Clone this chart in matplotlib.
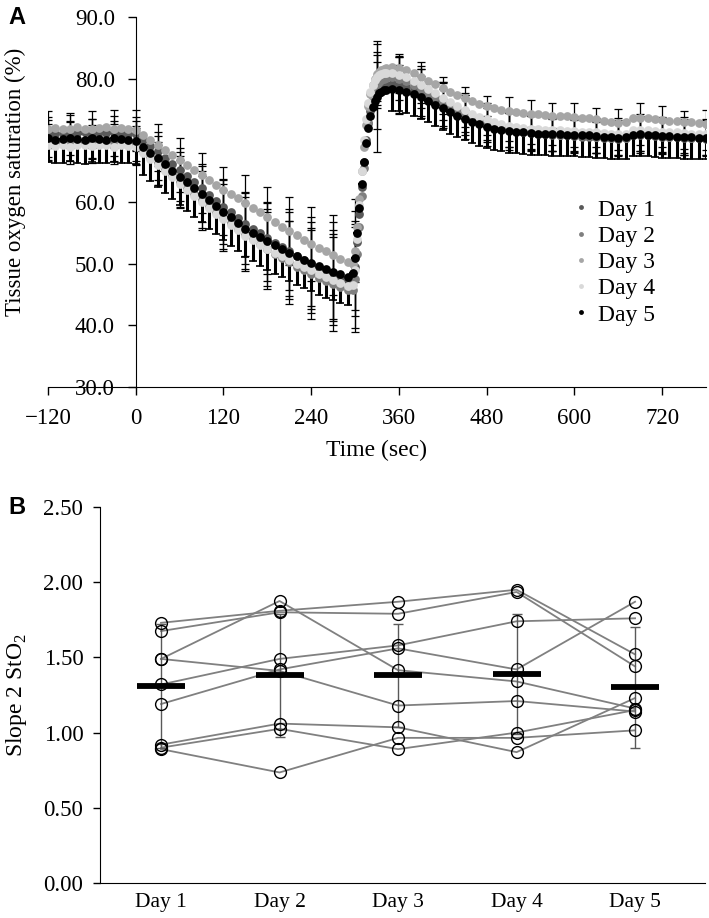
import numpy as np
import matplotlib
matplotlib.use("Agg")
import matplotlib.pyplot as plt
from matplotlib.lines import Line2D

plt.rcParams['font.family'] = 'Liberation Serif'
plt.rcParams['mathtext.fontset'] = 'custom'
plt.rcParams['mathtext.rm'] = 'Liberation Serif'

## Data, panel A (StO2 time course, % )
# sample times: baseline/occlusion every 10 s, reperfusion rise every 3 s, recovery every 10 s
time_sec = np.r_[np.arange(-120, 291, 10), np.arange(297, 343, 3), np.arange(350, 781, 10)]

day1 = [71.3, 71.1, 71.2, 71.4, 71.2, 71.3, 71.1, 71.3, 71.2, 71.4, 71.2, 71.1, 71.0,
        70.1, 69.1, 68.2, 67.2, 66.2, 65.2, 64.2, 63.2, 62.2, 61.2, 60.2, 59.2, 58.3, 57.4, 56.5,
        55.7, 54.9, 54.1, 53.4, 52.7, 52.0, 51.3, 50.6, 50.0, 49.4, 48.8, 48.3, 47.8, 47.3,
        47.5, 49.5, 53.5, 58.0, 62.5, 66.5, 70.0, 72.8, 74.8, 76.2, 77.2, 77.9, 78.4, 78.7, 78.9, 79.0,
        79.1, 79.0, 78.7, 78.2, 77.7, 77.1, 76.5, 75.9, 75.3, 74.7, 74.1, 73.6, 73.1, 72.7, 72.3,
        72.0, 71.7, 71.5, 71.3, 71.2, 71.1, 71.0, 70.9, 70.8, 70.8, 70.7, 70.6, 70.6, 70.5, 70.4,
        70.3, 70.2, 70.3, 70.8, 70.9, 70.8, 70.7, 70.6, 70.5, 70.5, 70.4, 70.3, 70.3, 70.2]
day2 = [69.7, 69.5, 69.6, 69.8, 69.6, 69.4, 69.7, 69.6, 69.5, 69.7, 69.6, 69.5, 69.3,
        68.3, 67.3, 66.3, 65.3, 64.3, 63.3, 62.3, 61.3, 60.3, 59.3, 58.4, 57.5, 56.6, 55.7, 54.8,
        54.0, 53.2, 52.4, 51.6, 50.9, 50.2, 49.5, 48.9, 48.3, 47.7, 47.2, 46.7, 46.2, 45.7,
        45.8, 47.5, 51.5, 56.0, 61.0, 65.5, 69.5, 72.8, 75.2, 77.0, 78.2, 79.0, 79.5, 79.8, 80.0, 80.1,
        80.2, 80.0, 79.6, 79.0, 78.4, 77.7, 77.0, 76.3, 75.6, 74.9, 74.3, 73.7, 73.2, 72.8, 72.4,
        72.1, 71.8, 71.6, 71.4, 71.3, 71.2, 71.1, 71.0, 70.9, 70.9, 70.8, 70.7, 70.7, 70.6, 70.5,
        70.4, 70.3, 70.4, 70.9, 71.0, 70.9, 70.8, 70.7, 70.6, 70.6, 70.5, 70.4, 70.4, 70.3]
day3 = [71.9, 72.0, 71.8, 71.9, 72.1, 71.9, 71.8, 72.0, 72.1, 71.9, 72.0, 71.9, 71.7,
        70.9, 70.1, 69.3, 68.5, 67.6, 66.8, 66.0, 65.2, 64.4, 63.6, 62.8, 62.0, 61.3, 60.6, 59.9,
        59.1, 58.3, 57.5, 56.7, 56.0, 55.3, 54.6, 53.9, 53.2, 52.6, 52.0, 51.4, 50.8, 50.2,
        50.0, 52.0, 56.0, 60.5, 65.0, 69.0, 72.5, 75.5, 77.5, 79.0, 80.0, 80.7, 81.1, 81.4, 81.6, 81.8,
        81.9, 81.8, 81.4, 80.9, 80.3, 79.7, 79.1, 78.5, 77.9, 77.3, 76.8, 76.3, 75.9, 75.6, 75.3,
        75.0, 74.8, 74.6, 74.4, 74.3, 74.2, 74.1, 74.0, 74.0, 73.9, 73.8, 73.7, 73.6, 73.4, 73.2,
        73.0, 72.8, 72.9, 73.6, 73.7, 73.6, 73.4, 73.3, 73.2, 73.1, 73.0, 72.9, 72.8, 72.7]
day4 = [69.3, 69.1, 69.2, 69.0, 69.3, 69.2, 69.1, 69.3, 69.2, 69.0, 69.2, 69.1, 69.0,
        68.0, 67.0, 66.0, 65.0, 64.0, 63.0, 62.0, 61.0, 60.0, 59.0, 58.1, 57.2, 56.3, 55.4, 54.5,
        53.8, 53.1, 52.4, 51.8, 51.2, 50.6, 50.0, 49.4, 48.9, 48.4, 47.9, 47.4, 46.9, 46.4,
        46.5, 49.0, 54.0, 59.5, 65.0, 70.0, 73.5, 76.0, 77.8, 79.0, 79.8, 80.3, 80.6, 80.8, 80.9, 81.0,
        80.9, 80.6, 80.2, 79.6, 79.0, 78.3, 77.6, 76.9, 76.2, 75.5, 74.9, 74.3, 73.8, 73.4, 73.0,
        72.7, 72.4, 72.2, 72.0, 71.9, 71.8, 71.7, 71.6, 71.6, 71.5, 71.5, 71.4, 71.4, 71.3, 71.2,
        71.1, 71.0, 71.1, 71.6, 71.7, 71.6, 71.5, 71.4, 71.3, 71.3, 71.2, 71.1, 71.1, 71.0]
day5 = [70.3, 70.1, 70.2, 70.4, 70.2, 70.0, 70.3, 70.2, 70.1, 70.3, 70.2, 70.1, 69.9,
        69.0, 68.0, 67.1, 66.1, 65.1, 64.1, 63.2, 62.2, 61.3, 60.3, 59.4, 58.4, 57.5, 56.6, 55.7,
        55.0, 54.3, 53.6, 53.0, 52.4, 51.8, 51.2, 50.6, 50.1, 49.6, 49.1, 48.7, 48.3, 47.9,
        48.5, 51.0, 55.0, 59.0, 63.0, 66.5, 69.5, 72.0, 74.0, 75.4, 76.4, 77.1, 77.6, 77.9, 78.1, 78.2,
        78.3, 78.2, 77.9, 77.5, 77.0, 76.4, 75.8, 75.2, 74.6, 74.0, 73.5, 73.0, 72.6, 72.2, 71.9,
        71.7, 71.5, 71.4, 71.3, 71.2, 71.1, 71.1, 71.0, 71.0, 70.9, 70.9, 70.8, 70.8, 70.7, 70.6,
        70.5, 70.4, 70.5, 70.9, 71.0, 70.9, 70.8, 70.7, 70.7, 70.6, 70.5, 70.5, 70.4, 70.4]

# SD shown every 30 s
err_times = np.arange(-120, 781, 30)
sd1 = [2.5, 2.7, 2.4, 2.6, 2.8, 3.2, 3.6, 4.0, 4.6, 5.2, 5.8, 6.3, 6.8, 7.2, 7.0, 6.0,
       4.5, 3.8, 3.5, 3.2, 3.0, 2.8, 2.7, 2.6, 2.6, 2.5, 2.6, 2.7, 2.6, 2.5, 2.6]
sd2 = [2.9, 3.1, 2.8, 3.0, 3.1, 3.5, 4.2, 4.8, 5.5, 6.0, 6.5, 6.8, 7.2, 7.6, 8.5, 3.7,
       3.5, 3.2, 3.0, 3.0, 2.8, 2.8, 2.7, 2.7, 2.6, 2.6, 2.7, 2.8, 2.6, 2.9, 2.7]
sd3 = [2.8, 2.6, 2.9, 3.0, 3.2, 3.4, 3.6, 3.5, 3.6, 4.5, 5.0, 5.5, 6.0, 6.5, 5.0, 5.0,
       2.2, 2.4, 1.8, 1.8, 1.6, 2.3, 2.2, 2.0, 2.2, 1.9, 2.3, 2.4, 2.3, 1.8, 2.3]
sd4 = [2.6, 2.8, 2.7, 2.9, 3.0, 3.3, 3.8, 4.2, 4.8, 5.4, 6.0, 6.4, 6.9, 7.4, 9.5, 4.0,
       3.0, 3.0, 2.6, 2.8, 2.6, 2.5, 2.5, 2.4, 2.5, 2.4, 2.6, 2.5, 2.4, 2.6, 2.5]
sd5 = [3.0, 2.8, 3.1, 2.9, 3.2, 3.6, 4.0, 4.6, 5.2, 5.8, 6.4, 7.0, 7.5, 8.0, 9.5, 9.0,
       4.0, 3.4, 3.2, 3.3, 3.1, 3.0, 2.9, 2.8, 2.9, 2.8, 2.9, 3.0, 2.9, 2.8, 2.9]
# Day 5 lower SD drawn at every sample (baseline, occlusion, rise, recovery)
day5_low_sd = [3.8, 4.6, 0.0, 3.5]
segment_len = [13, 29, 16, 44]

day_labels = ['Day 1', 'Day 2', 'Day 3', 'Day 4', 'Day 5']
day_colors = ['#595959', '#7f7f7f', '#a6a6a6', '#d9d9d9', '#000000']

## Data, panel B (slope 2 per subject)
subject_slopes = [
    [1.73, 1.81, 1.87, 1.95, 1.52],
    [1.675, 1.80, 1.79, 1.935, 1.44],
    [1.49, 1.875, 1.415, 1.34, 1.16],
    [1.49, 1.41, 1.18, 1.21, 1.14],
    [1.32, 1.49, 1.58, 1.74, 1.76],
    [1.19, 1.42, 1.56, 1.42, 1.87],
    [0.92, 1.06, 1.035, 0.87, 1.23],
    [0.90, 1.025, 0.89, 1.00, 1.15],
    [0.89, 0.735, 0.965, 0.965, 1.015],
]
slope_mean = [1.31, 1.38, 1.38, 1.39, 1.30]
slope_sd = [0.41, 0.41, 0.34, 0.40, 0.40]

## Figure
fig = plt.figure(figsize=(7.09, 9.18), dpi=100)
axA = fig.add_axes([48/709, 1-387/918, 658/709, 370/918])
axB = fig.add_axes([100/709, 1-883/918, 605/709, 376/918])

# Panel A
series = [day1, day2, day3, day4, day5]
sds = [sd1, sd2, sd3, sd4, sd5]
pick = np.isin(time_sec, err_times)
for y, sd in zip(series, sds):
    y = np.asarray(y)
    axA.errorbar(time_sec[pick], y[pick], yerr=sd, fmt='none', ecolor='black',
                 elinewidth=0.9, capsize=3, capthick=0.9, zorder=1)
low = np.repeat(day5_low_sd, segment_len)
axA.errorbar(time_sec, day5, yerr=[low, np.zeros_like(low)], fmt='none', ecolor='black',
             elinewidth=2.2, capsize=2.8, capthick=1.2, zorder=1.5)
for y, c in zip(series, day_colors):
    axA.plot(time_sec, y, 'o', color=c, ms=6.3, mew=0, zorder=2)

axA.set_xlim(-120, 780)
axA.set_ylim(30, 90)
axA.spines['top'].set_visible(False)
axA.spines['right'].set_visible(False)
axA.spines['left'].set_position(('data', 0))
axA.set_xticks(np.arange(-120, 721, 120))
axA.set_yticks(np.arange(30, 91, 10))
axA.set_yticklabels([f'{v:.1f}' for v in np.arange(30, 91, 10)])
axA.tick_params(direction='out', length=6, width=1, labelsize=16.5, pad=9)
axA.set_xlabel('Time (sec)', fontsize=17, labelpad=8)
axA.set_ylabel('Tissue oxygen saturation (%)', fontsize=16.5)
axA.yaxis.set_label_coords(-0.034, 0.554)

handles = [Line2D([], [], ls='none', marker='o', ms=3.5, mew=0, color=c) for c in day_colors]
axA.legend(handles, day_labels, loc='upper left', bbox_to_anchor=(0.8, 0.508), frameon=False,
           fontsize=17, labelspacing=0.2, handlelength=0.6, handletextpad=0.4,
           borderpad=0, borderaxespad=0)

# Panel B
xpos = np.arange(len(day_labels))
for s in subject_slopes:
    axB.plot(xpos, s, color='#808080', lw=1.3, zorder=2)
    axB.plot(xpos, s, 'o', mfc='none', mec='black', ms=8.5, mew=1.0, zorder=4)
axB.errorbar(xpos, slope_mean, yerr=slope_sd, fmt='none', ecolor='#595959',
             elinewidth=1.0, capsize=3.5, capthick=1.0, zorder=3)
axB.plot(xpos, slope_mean, '_', color='black', ms=35, mew=4.2, zorder=5)

axB.set_xlim(-0.515, 4.59)
axB.set_ylim(0, 2.5)
axB.spines['top'].set_visible(False)
axB.spines['right'].set_visible(False)
axB.set_xticks(xpos)
axB.set_xticklabels(day_labels)
axB.set_yticks(np.arange(0, 2.51, 0.5))
axB.set_yticklabels([f'{v:.2f}' for v in np.arange(0, 2.51, 0.5)])
axB.tick_params(axis='y', direction='out', length=5, width=1, labelsize=16.5, pad=7)
axB.tick_params(axis='x', length=0, labelsize=15.5, pad=7)
axB.set_ylabel('Slope 2 StO$_\\mathregular{2}$', fontsize=17)
axB.yaxis.set_label_coords(-0.118, 0.5)

fig.text(17/709, 1-17/918, 'A', fontsize=17, weight='bold', family='Liberation Sans',
         ha='center', va='center')
fig.text(17/709, 1-508/918, 'B', fontsize=17, weight='bold', family='Liberation Sans',
         ha='center', va='center')

fig.savefig('out.png', dpi=100)
